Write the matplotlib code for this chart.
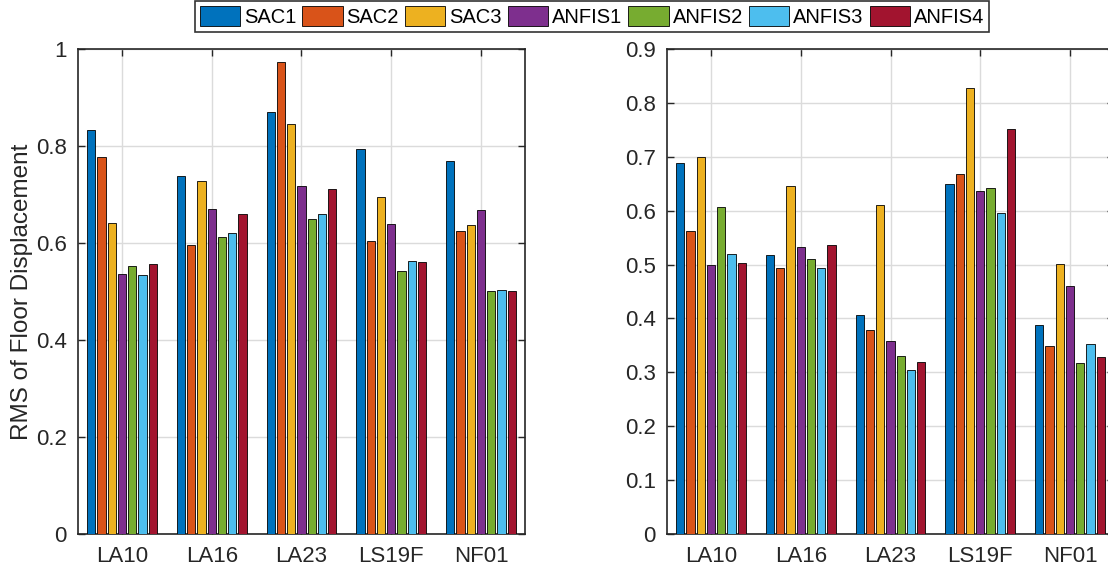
import matplotlib
matplotlib.use("Agg")
import matplotlib.pyplot as plt
import numpy as np
from matplotlib.ticker import FuncFormatter

plt.rcParams['font.family'] = ['Liberation Sans', 'DejaVu Sans']

categories = ["LA10", "LA16", "LA23", "LS19F", "NF01"]
series_names = ["SAC1", "SAC2", "SAC3", "ANFIS1", "ANFIS2", "ANFIS3", "ANFIS4"]

# Left panel: RMS of floor displacement (rows = series, cols = categories)
left_SAC1   = [0.834, 0.739, 0.871, 0.793, 0.769]
left_SAC2   = [0.778, 0.595, 0.973, 0.604, 0.625]
left_SAC3   = [0.641, 0.728, 0.845, 0.694, 0.637]
left_ANFIS1 = [0.536, 0.671, 0.718, 0.639, 0.668]
left_ANFIS2 = [0.553, 0.612, 0.650, 0.542, 0.501]
left_ANFIS3 = [0.534, 0.621, 0.660, 0.562, 0.504]
left_ANFIS4 = [0.556, 0.660, 0.711, 0.560, 0.501]

# Right panel
right_SAC1   = [0.688, 0.518, 0.406, 0.650, 0.388]
right_SAC2   = [0.562, 0.494, 0.378, 0.668, 0.348]
right_SAC3   = [0.699, 0.645, 0.610, 0.828, 0.501]
right_ANFIS1 = [0.499, 0.532, 0.359, 0.636, 0.461]
right_ANFIS2 = [0.607, 0.510, 0.331, 0.642, 0.317]
right_ANFIS3 = [0.520, 0.493, 0.305, 0.596, 0.352]
right_ANFIS4 = [0.502, 0.536, 0.320, 0.751, 0.328]

left_yticks = [0, 0.2, 0.4, 0.6, 0.8, 1.0]
right_yticks = [0, 0.1, 0.2, 0.3, 0.4, 0.5, 0.6, 0.7, 0.8, 0.9]
ylabel_left = "RMS of Floor Displacement"

colors = [(0, 0.4470, 0.7410), (0.8500, 0.3250, 0.0980), (0.9290, 0.6940, 0.1250),
          (0.4940, 0.1840, 0.5560), (0.4660, 0.6740, 0.1880), (0.3010, 0.7450, 0.9330),
          (0.6350, 0.0780, 0.1840)]

left_data = [left_SAC1, left_SAC2, left_SAC3, left_ANFIS1, left_ANFIS2, left_ANFIS3, left_ANFIS4]
right_data = [right_SAC1, right_SAC2, right_SAC3, right_ANFIS1, right_ANFIS2, right_ANFIS3, right_ANFIS4]

fig = plt.figure(figsize=(11.08, 5.74), dpi=100)
ax1 = fig.add_axes([78/1108, 40/574, 447/1108, 485/574])
ax2 = fig.add_axes([667/1108, 40/574, 447/1108, 485/574])

txtc = (0.15, 0.15, 0.15)
n = len(series_names)
gw = 0.8
slot = gw / n
bw = slot * 0.8
x = np.arange(1, len(categories) + 1)

def draw(ax, data, yticks, ymax):
    handles = []
    for i, vals in enumerate(data):
        off = -gw / 2 + (i + 0.5) * slot
        h = ax.bar(x + off, vals, width=bw, color=colors[i], edgecolor='black',
                   linewidth=0.6, label=series_names[i], zorder=3)
        handles.append(h)
    ax.set_xlim(0.51, 5.49)
    ax.set_ylim(0, ymax)
    ax.set_xticks(x)
    ax.set_xticklabels(categories)
    ax.set_yticks(yticks)
    ax.yaxis.set_major_formatter(FuncFormatter(lambda v, p: "%g" % round(v, 2)))
    ax.grid(True, color=(0.86, 0.86, 0.86), linewidth=1.0, zorder=0)
    ax.set_axisbelow(True)
    ax.tick_params(direction='in', length=5, width=1.0, top=True, right=True,
                   labelsize=16, colors=txtc)
    ax.tick_params(axis='x', pad=9)
    ax.tick_params(axis='y', pad=8)
    for s in ax.spines.values():
        s.set_color(txtc)
        s.set_linewidth(1.2)
    return handles

handles = draw(ax1, left_data, left_yticks, 1.0)
draw(ax2, right_data, right_yticks, 0.9)
ax1.set_ylabel(ylabel_left, fontsize=17.5, color=txtc, labelpad=2.5)

leg = fig.legend(handles, series_names, loc='upper center', ncol=7,
                 bbox_to_anchor=(592/1108, 1 - 1/574), fontsize=14.5,
                 frameon=True, fancybox=False, edgecolor='black',
                 handlelength=2.0, handleheight=1.15, handletextpad=0.2,
                 columnspacing=0.3, borderpad=0.25, borderaxespad=0)
leg.get_frame().set_linewidth(1.2)

fig.savefig("out.png", dpi=100)
